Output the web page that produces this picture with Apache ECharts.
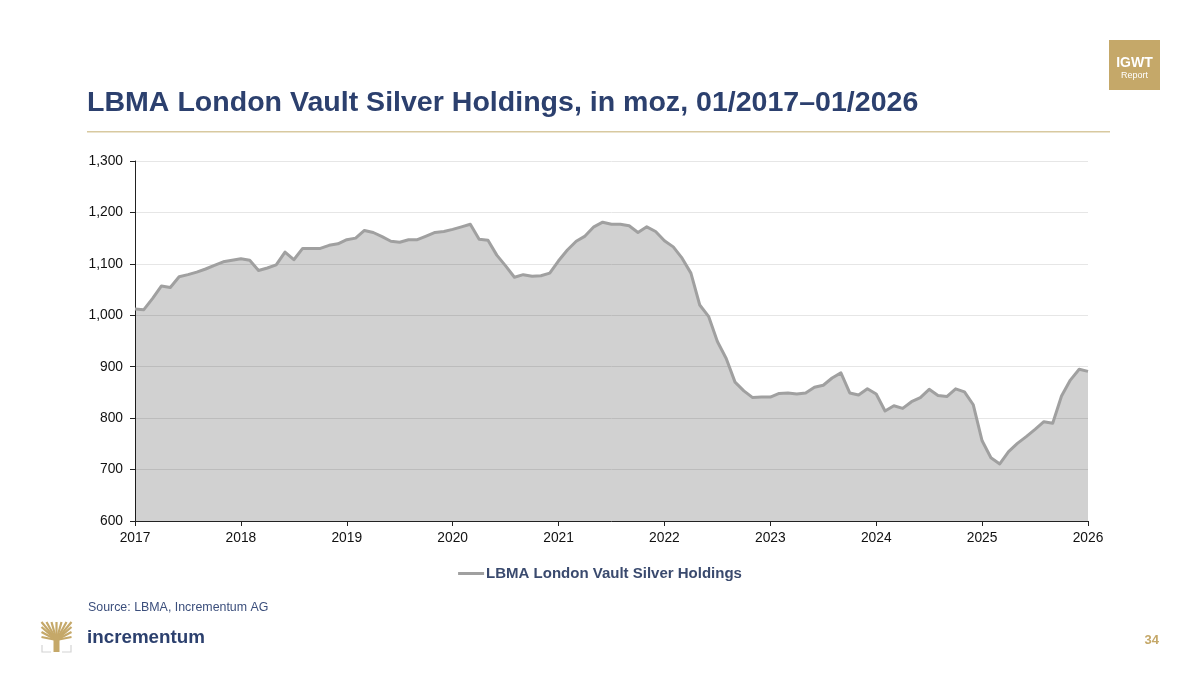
<!DOCTYPE html>
<html><head><meta charset="utf-8">
<style>html,body{margin:0;padding:0;background:#fff}#c{width:1200px;height:675px}</style>
<script src="https://cdn.jsdelivr.net/npm/echarts@6/dist/echarts.min.js"></script>
</head><body><div id="c"></div>
<script>
const startYear = 2017;
const holdings = [
1012,1011,1033,1057,1054,1075,1079,1084,1090,1097,1104,1107,
1110,1107,1087,1092,1098,1123,1108,1130,1130,1130,1136,1139,
1147,1150,1165,1161,1153,1144,1142,1147,1147,1154,1161,1163,
1167,1172,1177,1148,1146,1117,1096,1074,1079,1076,1077,1082,
1106,1127,1144,1154,1172,1181,1177,1177,1174,1161,1172,1163,
1145,1133,1111,1082,1020,998,949,916,870,853,840,841,
841,848,849,847,849,860,864,878,888,849,845,857,
847,814,824,819,832,840,856,844,842,857,851,826,
756,723,711,735,751,764,778,793,790,843,874,895,
891];
const months = holdings.map((_, i) => (startYear + Math.floor(i / 12)) + '-' + String(i % 12 + 1).padStart(2, '0'));
const seriesName = 'LBMA London Vault Silver Holdings';
const titleText = 'LBMA London Vault Silver Holdings, in moz, 01/2017–01/2026';
const sourceText = 'Source: LBMA, Incrementum AG';
const pageNo = '34';
const FONT = '"Liberation Sans", Arial, sans-serif';
const NAVY = '#2c406e', GOLD = '#c5a869';

const treeX = 56.5, treeY = 640;
const branches = [[-15,-18],[-15,-13],[-15,-8],[-15,-3],[-10,-18],[-5,-18],[0,-18],[5,-18],[10,-18],[15,-18],[15,-13],[15,-8],[15,-3]];
const tree = branches.map(b => ({type:'line', shape:{x1:treeX,y1:treeY,x2:treeX+b[0],y2:treeY+b[1]},
  style:{stroke:GOLD,lineWidth:2.2}}));

const chart = echarts.init(document.getElementById('c'), null, {renderer:'canvas'});
chart.setOption({
  animation:false,
  backgroundColor:'#fff',
  grid:{left:135,right:112,top:161,bottom:154,containLabel:false},
  legend:{show:true,data:[{name:seriesName}],top:566,left:'center',itemWidth:26,itemHeight:3,itemGap:2,
    icon:'rect',padding:0,
    textStyle:{fontFamily:FONT,fontSize:15,fontWeight:'bold',color:'#3a4a6e',padding:[0,0,0,-3]}},
  xAxis:{type:'category',data:months,boundaryGap:false,
    axisLine:{lineStyle:{color:'#222',width:1}},
    axisTick:{show:true,interval:11,length:5,lineStyle:{color:'#222'}},
    axisLabel:{interval:11,formatter:v=>v.slice(0,4),fontFamily:FONT,fontSize:13.8,color:'#111',margin:10,showMaxLabel:true},
    splitLine:{show:false}},
  yAxis:{type:'value',min:600,max:1300,interval:100,
    axisLine:{show:true,lineStyle:{color:'#222',width:1}},
    axisTick:{show:true,length:5,lineStyle:{color:'#222'}},
    axisLabel:{fontFamily:FONT,fontSize:13.8,color:'#111',margin:12,padding:[2,0,0,0],formatter:v=>v.toLocaleString('en-US')},
    splitLine:{show:true,lineStyle:{color:'#e6e6e6',width:1}}},
  series:[{name:seriesName,type:'line',data:holdings,smooth:false,symbol:'none',
    lineStyle:{color:'#a0a0a0',width:3,join:'round'},itemStyle:{color:'#a0a0a0'},
    areaStyle:{color:'rgba(0,0,0,0.18)',opacity:1},clip:true}],
  graphic:[
    {type:'text',left:87,top:89,style:{text:titleText,fontFamily:FONT,fontSize:28.55,fontWeight:'bold',fill:NAVY}},
    {type:'rect',shape:{x:87,y:131,width:1023,height:1.5},style:{fill:'#d8c9a0'}},
    {type:'rect',shape:{x:1109,y:40,width:51,height:50},style:{fill:GOLD}},
    {type:'text',x:1134.5,y:56,style:{text:'IGWT',fontFamily:FONT,fontSize:14,fontWeight:'bold',fill:'#fff',align:'center'}},
    {type:'text',x:1134.5,y:71,style:{text:'Report',fontFamily:FONT,fontSize:9,fill:'#fff',align:'center'}},
    {type:'text',left:88,top:602,style:{text:sourceText,fontFamily:FONT,fontSize:12.4,fill:'#3c4f7c'}},
    {type:'text',left:87,top:628,style:{text:'incrementum',fontFamily:FONT,fontSize:18.8,fontWeight:'bold',fill:NAVY,letterSpacing:-0.6}},
    {type:'text',right:41,top:634,style:{text:pageNo,fontFamily:FONT,fontSize:13,fontWeight:'bold',fill:GOLD}},
    ...tree,
    {type:'rect',shape:{x:53.5,y:634,width:6,height:18},style:{fill:GOLD}},
    {type:'polyline',shape:{points:[[42,645],[42,652],[51,652]]},style:{stroke:'#d4d4d4',fill:null,lineWidth:1.2}},
    {type:'polyline',shape:{points:[[71,645],[71,652],[62,652]]},style:{stroke:'#d4d4d4',fill:null,lineWidth:1.2}}
  ]
});
</script></body></html>
